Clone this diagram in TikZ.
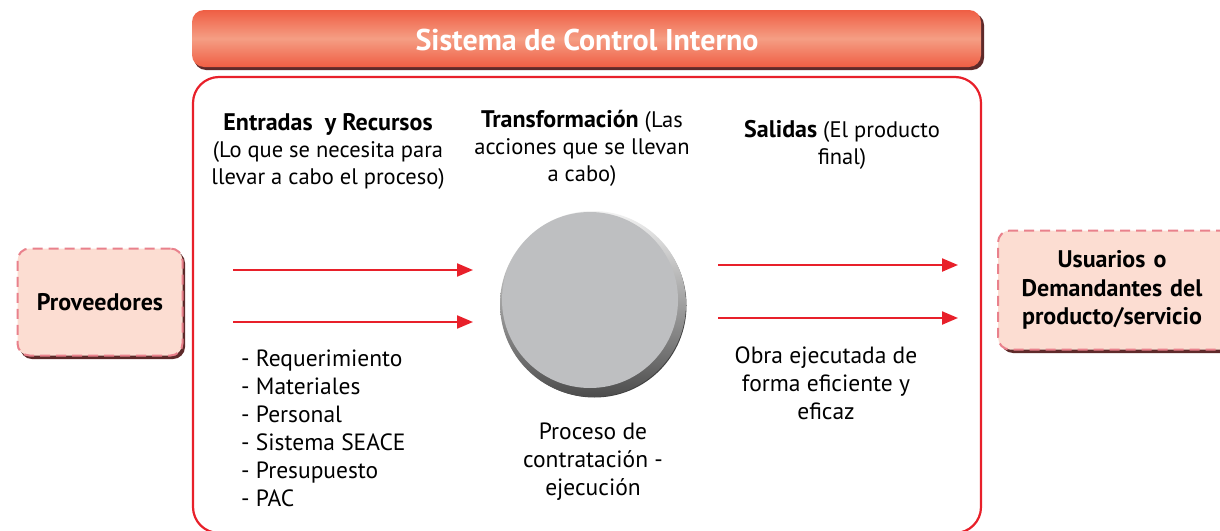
\documentclass[tikz,border=0pt]{standalone}
\usepackage{fontspec}
\setmainfont{PT Sans}
\usetikzlibrary{arrows.meta}

\definecolor{framered}{HTML}{E8202A}
\definecolor{barred}{HTML}{EF5E44}
\definecolor{barlight}{HTML}{F59E84}
\definecolor{boxfill}{HTML}{FCDDD2}
\definecolor{boxline}{HTML}{E9818C}
\definecolor{shadowdark}{HTML}{5E2A2A}
\definecolor{discgray}{HTML}{BEBFC1}

\newcommand{\headbf}[1]{{\fontsize{24}{27}\selectfont\bfseries #1}}

\tikzset{
  bodytext/.style={font=\fontsize{23.5}{28}\selectfont, text=black},
  headtext/.style={font=\fontsize{22.5}{27}\selectfont, align=center},
  actorbox/.style={rectangle, rounded corners=12pt, fill=boxfill, draw=boxline,
    line width=2pt, dash pattern=on 10pt off 6pt, align=center,
    font=\fontsize{24}{28.5}\selectfont\bfseries},
  flow/.style={draw=framered, line width=2.2pt, -{Triangle[length=16pt,width=13pt]}},
}

\begin{document}
\begin{tikzpicture}[x=1pt, y=-1pt]
    \clip (0,0) rectangle (1220,530);
    \fill[white] (0,0) rectangle (1220,530);

    % Title bar
    \fill[shadowdark, rounded corners=12pt] (194,13) rectangle (984,70);
    \shade[rounded corners=12pt, top color=barred, bottom color=barred, middle color=barlight]
      (192,10) rectangle (981,67);
    \node (title) at (587,40) [text=white, font=\fontsize{30}{34}\selectfont\bfseries] {Sistema de Control Interno};

    % Frame
    \draw[framered, line width=2.2pt, rounded corners=26pt] (193,77) rectangle (981,533);
    \coordinate (frame) at (587,305);

    % Outer boxes
    \fill[shadowdark, rounded corners=12pt] (20,251) rectangle (185,359);
    \node (prov) [actorbox, minimum width=165pt, minimum height=107pt] at (100,302) {Proveedores};
    \fill[shadowdark, rounded corners=12pt] (1001,233) rectangle (1240,353);
    \node (usu) [actorbox, minimum width=240pt, minimum height=119pt, text width=230pt] at (1118,290)
      {\hspace*{-12pt}Usuarios o\\\hspace*{-12pt}Demandantes del\\\hspace*{-12pt}producto/servicio};

    % Disc
    \fill[black!75] (594.5,305.5) circle (92);
    \shade[shading angle=135, top color=white!90!gray, bottom color=black!70] (593,304) circle (93);
    \fill[discgray] (590,300) circle (88);
    \node (proc) [circle, minimum size=186pt] at (593,304) {};

    % Headings
    \node (entradas) [headtext] at (328,151) {\headbf{Entradas\ \ y Recursos}\\(Lo que se necesita para\\llevar a cabo el proceso)};
    \node (transf) [headtext] at (582,148) {\headbf{Transformación} (Las\\acciones que se llevan\\a cabo)};
    \node (salidas) [headtext] at (842,145) {\headbf{Salidas} (El producto\\final)};

    % Texts below
    \node (recursos) [bodytext, align=left, anchor=west, inner sep=0pt] at (241,428)
      {- Requerimiento\\- Materiales\\- Personal\\- Sistema SEACE\\- Presupuesto\\- PAC};
    \node (obra) [bodytext, align=center] at (826,383) {Obra ejecutada de\\forma eficiente y\\eficaz};
    \node (proceso) [bodytext, align=center] at (593,462) {Proceso de\\contratación -\\ejecución};

    % Arrows
    \coordinate (ina) at (233,270);
    \coordinate (inb) at (233,322);
    \coordinate (outa) at (718,265);
    \coordinate (outb) at (718,318);
    \draw[flow] (ina) -- ++(240,0) coordinate (inaend);
    \draw[flow] (inb) -- ++(240,0) coordinate (inbend);
    \draw[flow] (outa) -- ++(240,0) coordinate (outaend);
    \draw[flow] (outb) -- ++(240,0) coordinate (outbend);
\end{tikzpicture}
\end{document}
